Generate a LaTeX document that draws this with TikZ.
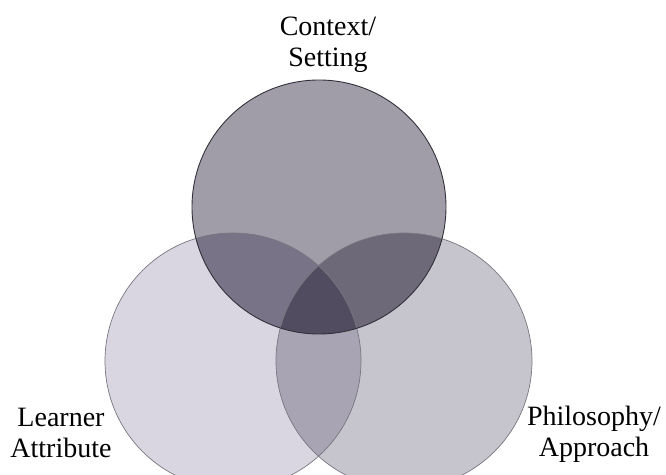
\documentclass[tikz,border=0pt]{standalone}
\usepackage{fontspec}
\setmainfont{Liberation Serif}
\definecolor{settingfill}{RGB}{160,157,169}
\definecolor{learnerfill}{RGB}{217,214,225}
\definecolor{approachfill}{RGB}{198,196,205}
\definecolor{overlapfill}{RGB}{226,224,230}
\definecolor{rimdark}{RGB}{50,50,58}
\definecolor{rimlight}{RGB}{120,120,128}
\tikzset{
  lbl/.style={align=center,font=\fontsize{14}{15.5}\selectfont}
}
\begin{document}
\begin{tikzpicture}[x=0.5pt,y=-0.5pt]

\useasboundingbox (0,0) rectangle (666,475);
\clip (0,0) rectangle (666,475);

\begin{scope}[blend group=multiply]
  \fill[learnerfill]  (233,361) circle (128);
  \fill[approachfill] (404,361) circle (128);
  \fill[settingfill]  (319,207) circle (127);
  % darker where the top disc lies on the lower ones
  \begin{scope}
    \clip (319,207) circle (127);
    \fill[overlapfill] (233,361) circle (128);
    \fill[overlapfill] (404,361) circle (128);
  \end{scope}
\end{scope}

\draw[rimlight,line width=.35pt] (233,361) circle (128);
\draw[rimlight,line width=.35pt] (404,361) circle (128);
\draw[rimdark,line width=.45pt]  (319,207) circle (127);

\node[lbl] (setting)  at (328,45)  {Context/\\Setting};
\node[lbl] (learner)  at (61,433)  {Learner\\Attribute};
\node[lbl] (approach) at (594,434) {Philosophy/\\Approach};

\end{tikzpicture}
\end{document}
